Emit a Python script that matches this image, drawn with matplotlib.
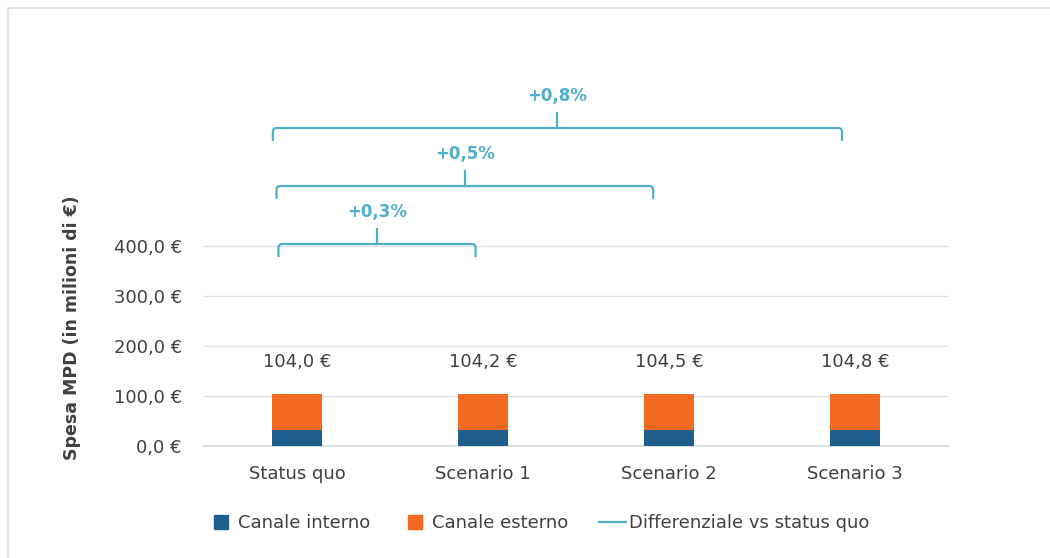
import matplotlib.pyplot as plt
from matplotlib.path import Path
from matplotlib.patches import PathPatch
from matplotlib.lines import Line2D

plt.rcParams['font.family'] = ['DejaVu Sans']

scenari = ['Status quo', 'Scenario 1', 'Scenario 2', 'Scenario 3']
canale_interno = [32.0, 32.0, 32.0, 32.0]
canale_esterno = [72.0, 72.2, 72.5, 72.8]
differenziale = ['+0,3%', '+0,5%', '+0,8%']
y_ticks = [0, 100, 200, 300, 400]

col_interno = '#1D5E8C'
col_esterno = '#F26A21'
col_diff = '#4FAFCB'
col_testo = '#404040'
col_griglia = '#DCE3E6'


def euro(v):
    return ('%.1f' % v).replace('.', ',') + ' €'


fig = plt.figure(figsize=(10.5, 5.58), dpi=100)
ax = fig.add_axes([0.1943, 0.2007, 0.7086, 0.681])

x = list(range(len(scenari)))
larghezza = 0.265
ax.bar(x, canale_interno, larghezza, color=col_interno, zorder=3)
ax.bar(x, canale_esterno, larghezza, bottom=canale_interno, color=col_esterno, zorder=3)

totali = [a + b for a, b in zip(canale_interno, canale_esterno)]
for i, t in enumerate(totali):
    ax.text(i, 168, euro(t), ha='center', va='center', fontsize=13, color=col_testo)

# parentesi con la variazione rispetto allo status quo
livelli = [404, 520, 636]
sinistra = [-0.10, -0.11, -0.13]
destra = [0.96, 1.915, 2.93]
for k, lab in enumerate(differenziale):
    y = livelli[k]
    x0, x1 = sinistra[k], destra[k]
    verts = [(x0, y - 26), (x0, y - 8), (x0, y), (x0 + 0.02, y),
             (x1 - 0.02, y), (x1, y), (x1, y - 8), (x1, y - 26)]
    codes = [Path.MOVETO, Path.LINETO, Path.CURVE3, Path.CURVE3,
             Path.LINETO, Path.CURVE3, Path.CURVE3, Path.LINETO]
    ax.add_patch(PathPatch(Path(verts, codes), fill=False, edgecolor=col_diff,
                           lw=1.6, clip_on=False, zorder=4))
    xm = (x0 + x1) / 2
    ax.plot([xm, xm], [y, y + 30], color=col_diff, lw=1.6, clip_on=False, zorder=4)
    ax.text(xm, y + 64, lab, ha='center', va='center', fontsize=12,
            fontweight='bold', color=col_diff)

ax.set_xlim(-0.5, 3.5)
ax.set_ylim(0, 760)
ax.set_yticks(y_ticks)
ax.set_yticklabels([euro(v) for v in y_ticks])
ax.set_xticks(x)
ax.set_xticklabels(scenari)
ax.tick_params(axis='y', length=0, pad=16, labelsize=13, labelcolor=col_testo)
ax.tick_params(axis='x', length=0, pad=14, labelsize=13, labelcolor=col_testo)
ax.grid(axis='y', color=col_griglia, lw=1.0, zorder=0)
ax.axhline(0, color='#D0D9DC', lw=1.2, clip_on=False, zorder=2)
for s in ax.spines.values():
    s.set_visible(False)

fig.text(72 / 1050, 1 - 328 / 558, 'Spesa MPD (in milioni di €)', rotation=90,
         ha='center', va='center', fontsize=12.5, fontweight='bold', color=col_testo)

handles = [
    Line2D([], [], marker='s', linestyle='none', markersize=10, color=col_interno),
    Line2D([], [], marker='s', linestyle='none', markersize=10, color=col_esterno),
    Line2D([], [], color=col_diff, lw=1.6),
]
fig.legend(handles, ['Canale interno', 'Canale esterno', 'Differenziale vs status quo'],
           loc='center', bbox_to_anchor=(0.513, 0.0627), ncol=3, frameon=False,
           fontsize=13, handlelength=1.5, handletextpad=0.2, columnspacing=1.7,
           labelcolor=col_testo)

# cornice del grafico: solo bordo superiore e sinistro
bx, by = 8 / 1050, 1 - 8 / 558
fig.add_artist(Line2D([bx, bx, 1.0], [0.0, by, by], transform=fig.transFigure,
                      color='#D3DEE2', lw=1.2))

fig.savefig('out.png', dpi=100)
